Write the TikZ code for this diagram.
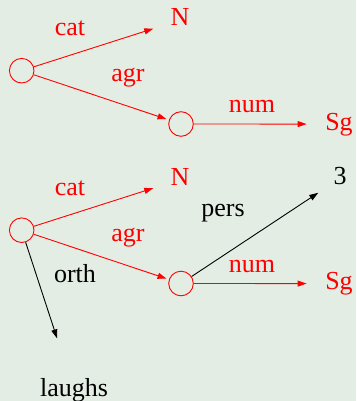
\documentclass[tikz,border=0pt]{standalone}
\usepackage{fontspec}
\setmainfont{Liberation Serif}
\usetikzlibrary{arrows.meta}
\definecolor{bgc}{HTML}{E4EDE4}
\definecolor{fred}{HTML}{FF0000}
\begin{document}
\begin{tikzpicture}[x=1pt,y=-1pt,
  every node/.style={font=\fontsize{26}{31}\selectfont},
  fs/.style={circle, draw=fred, minimum size=24.6pt, inner sep=0pt, line width=0.9pt},
  val/.style={inner sep=0pt, text height=17.5pt, text depth=5.7pt, anchor=base},
  lab/.style={inner sep=0pt, anchor=base},
  conn/.style={line width=0.9pt, -{Triangle[length=9pt,width=6pt]}},
  rc/.style={conn, draw=fred}
]
\useasboundingbox (0,0) rectangle (356,401);
\fill[bgc] (0,0) rectangle (356,401);
% top structure
\node[fs] (a1) at (21.7,70.7) {};
\node[fs] (a2) at (181,124) {};
\node[val, text=fred] (n1) at (180,26) {N};
\node[val, text=fred] (sg1) at (339,130) {Sg};
\node[lab, text=fred] (cat1) at (70,36) {cat};
\node[lab, text=fred] (agr1) at (128,82) {agr};
\node[lab, text=fred] (num1) at (252,113) {num};
\draw[rc, shorten >=18pt] (a1) -- (n1);
\draw[rc, shorten >=2.5pt] (a1) -- (a2);
\draw[rc, shorten >=18.5pt] (a2) -- (sg1);
% bottom structure
\node[fs] (a3) at (21.7,230.2) {};
\node[fs] (a4) at (181,283.5) {};
\node[val, text=fred] (n2) at (180,185.5) {N};
\node[val, text=fred] (sg2) at (339,289.5) {Sg};
\node[val] (three) at (340,184.3) {3};
\node[val] (laughs) at (74,396) {laughs};
\node[lab, text=fred] (cat2) at (70,195.5) {cat};
\node[lab, text=fred] (agr2) at (128,241.5) {agr};
\node[lab, text=fred] (num2) at (252,272.5) {num};
\node[lab] (pers) at (223,216.7) {pers};
\node[lab] (orth) at (75,282.7) {orth};
\draw[rc, shorten >=18pt] (a3) -- (n2);
\draw[rc, shorten >=2.5pt] (a3) -- (a4);
\draw[rc, shorten >=18.5pt] (a4) -- (sg2);
\draw[conn, shorten >=18pt] (a4) -- (three);
\draw[conn, shorten >=42pt] (a3) -- (laughs);
\end{tikzpicture}
\end{document}
